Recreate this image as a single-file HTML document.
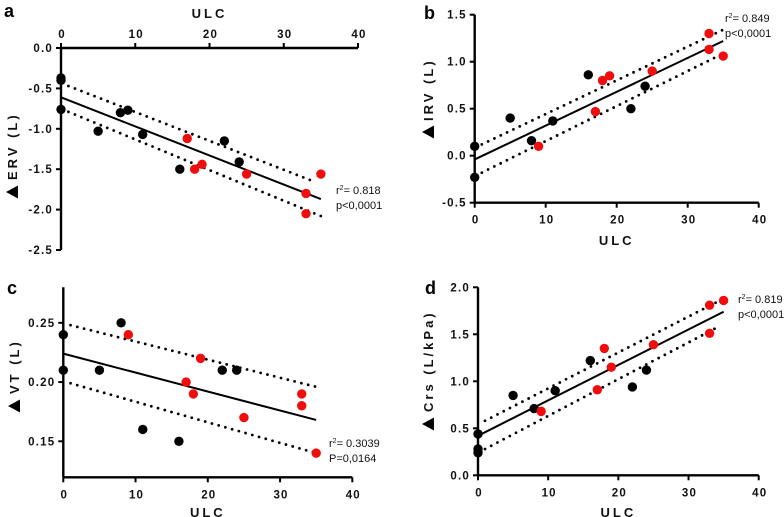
<!DOCTYPE html>
<html><head><meta charset="utf-8"><style>
html,body{margin:0;padding:0;background:#fff;}
svg{display:block;font-family:"Liberation Sans",Arial,sans-serif;}
.tk{font-size:11.5px;font-weight:bold;letter-spacing:1.2px;fill:#111;}
.ti{font-size:13px;font-weight:bold;letter-spacing:3px;fill:#111;}
.st{font-size:11px;fill:#111;}
.pl{font-size:18px;font-weight:bold;fill:#000;}
</style></head><body>
<svg id="fig" width="784" height="517" viewBox="0 0 784 517"></svg>
<script>
// ---- Panel a data ----
const aBlackX=[0,0,0,5,8,9,11,16,22,24];
const aBlackY=[-0.37,-0.40,-0.76,-1.03,-0.80,-0.77,-1.07,-1.50,-1.15,-1.41];
const aRedX=[17,18,19,25,33,33,35];
const aRedY=[-1.12,-1.50,-1.44,-1.56,-1.80,-2.05,-1.56];
const aFit=[[0,-0.61],[35,-1.87]];
const aUpper=[[1,-0.47],[34,-1.65]];
const aLower=[[1,-0.79],[35,-2.08]];
const aYTicks=[0,-0.5,-1,-1.5,-2,-2.5];
const aYLabels=["0.0","-0.5","-1.0","-1.5","-2.0","-2.5"];
// ---- Panel b data ----
const bBlackX=[0,0,5,8,11,16,22,24];
const bBlackY=[0.10,-0.23,0.40,0.16,0.37,0.86,0.50,0.74];
const bRedX=[9,17,18,19,25,33,33,35];
const bRedY=[0.10,0.47,0.80,0.85,0.90,1.30,1.13,1.06];
const bFit=[[0,-0.04],[35,1.22]];
const bUpper=[[1,0.12],[35,1.34]];
const bLower=[[1,-0.18],[34,1.05]];
const bYTicks=[1.5,1,0.5,0,-0.5];
const bYLabels=["1.5","1.0","0.5","0.0","-0.5"];
// ---- Panel c data ----
const cBlackX=[0,0,5,8,11,16,22,24];
const cBlackY=[0.24,0.21,0.21,0.25,0.16,0.15,0.21,0.21];
const cRedX=[9,17,18,19,25,33,33,35];
const cRedY=[0.24,0.20,0.19,0.22,0.17,0.19,0.18,0.14];
const cFit=[[0,0.224],[35,0.168]];
const cUpper=[[1,0.248],[35,0.196]];
const cLower=[[1,0.199],[35,0.140]];
const cYTicks=[0.25,0.20,0.15];
const cYLabels=["0.25","0.20","0.15"];
// ---- Panel d data ----
const dBlackX=[0,0,0,5,8,11,16,22,24];
const dBlackY=[0.44,0.28,0.24,0.85,0.71,0.90,1.22,0.94,1.12];
const dRedX=[9,17,18,19,25,33,33,35];
const dRedY=[0.68,0.91,1.35,1.15,1.39,1.81,1.51,1.86];
const dFit=[[0,0.42],[35,1.74]];
const dUpper=[[1,0.58],[35,1.88]];
const dLower=[[1,0.28],[34,1.57]];
const dYTicks=[2,1.5,1,0.5,0];
const dYLabels=["2.0","1.5","1.0","0.5","0.0"];
const xTicks=[0,10,20,30,40];
const xLabels=["0","10","20","30","40"];

const NS="http://www.w3.org/2000/svg";
const svg=document.getElementById('fig');
function mk(tag,attrs,parent,text){const e=document.createElementNS(NS,tag);for(const k in attrs)e.setAttribute(k,attrs[k]);if(text!==undefined)e.textContent=text;(parent||svg).appendChild(e);return e;}

function panel(p){
  const g=mk('g',{});
  
  
  const sx=v=>p.x0+(v-0)/(40)*(p.x1-p.x0);
  const sy=v=>p.yTop+(p.vTop-v)/(p.vTop-p.vBot)*(p.yBot-p.yTop);
  const ax=mk('path',{d:`M${p.x0},${sy(p.vTop)}V${sy(p.vBot)}`,stroke:'#000','stroke-width':2.4,fill:'none'},g);
  
  
  const xa=mk('path',{d:`M${p.x0},${p.xAxisY}H${p.x1}`,stroke:'#000','stroke-width':2.4,fill:'none'},g);
  
  
  p.yTicks.forEach((v,i)=>{
    mk('line',{x1:p.x0-5,x2:p.x0,y1:sy(v),y2:sy(v),stroke:'#000','stroke-width':2},g);
    const t=mk('text',{x:p.x0-8,y:sy(v)+4,'text-anchor':'end',class:'tk'},g,p.yLabels[i]);
    
    
  });
  const dir=p.top?-1:1;
  xTicks.forEach((v,i)=>{
    mk('line',{x1:sx(v),x2:sx(v),y1:p.xAxisY,y2:p.xAxisY+5*dir,stroke:'#000','stroke-width':2},g);
    const t=mk('text',{x:sx(v)+1,y:p.top?p.xAxisY-10:p.xAxisY+21,'text-anchor':'middle',class:'tk'},g,xLabels[i]);
    
    
  });
  const xt=mk('text',{x:(p.x0+p.x1)/2,y:p.xTitleY,'text-anchor':'middle',class:'ti'},g,'ULC');
  
  
  const yt=mk('text',{x:0,y:0,'text-anchor':'start',class:'ti',transform:`translate(${p.yTitleX},${p.yTitleY}) rotate(-90)`},g,p.yTitle);
  
  
  const tx=p.triX, ty=p.triY;
  const tri=mk('polygon',{points:`${tx-6},${ty} ${tx+6},${ty-6.5} ${tx+6},${ty+6.5}`,fill:'#000'},g);
  
  
  [p.upper,p.lower].forEach((b,k)=>{
    const l=mk('line',{x1:sx(b[0][0]),y1:sy(b[0][1]),x2:sx(b[1][0]),y2:sy(b[1][1]),stroke:'#000','stroke-width':2.8,'stroke-dasharray':'0 7','stroke-linecap':'round'},g);
    
    
  });
  const f=mk('line',{x1:sx(p.fit[0][0]),y1:sy(p.fit[0][1]),x2:sx(p.fit[1][0]),y2:sy(p.fit[1][1]),stroke:'#000','stroke-width':2},g);
  
  
  p.bx.forEach((v,i)=>{
    const c=mk('circle',{cx:sx(v),cy:sy(p.by[i]),r:4.7,fill:'#000'},g);
    
    
  });
  p.rx.forEach((v,i)=>{
    const c=mk('circle',{cx:sx(v),cy:sy(p.ry[i]),r:4.7,fill:'#f00d0d'},g);
    
    
  });
  const s1=mk('text',{x:p.stX,y:p.stY,class:'st'},g);
  
  
  mk('tspan',{},s1,'r');
  mk('tspan',{dy:-4,style:'font-size:7px'},s1,'2');
  mk('tspan',{dy:4},s1,'= '+p.r2);
  const s2=mk('text',{x:p.stX,y:p.stY+15,class:'st'},g,p.pv);
  
  
  const pl=mk('text',{x:p.lx,y:p.ly,class:'pl'},g,p.id);
  
  
}

panel({id:'a',x0:61,x1:358,yTop:48,yBot:250,vTop:0,vBot:-2.5,xAxisY:48,top:true,xTitleY:18,
  yTitle:'ERV (L)',yTitleX:17,yTitleY:180,triX:12,triY:192,yTicks:aYTicks,yLabels:aYLabels,
  bx:aBlackX,by:aBlackY,rx:aRedX,ry:aRedY,fit:aFit,upper:aUpper,lower:aLower,
  r2:'0.818',pv:'p<0,0001',stX:336,stY:194,lx:4,ly:17});
panel({id:'b',x0:474.7,x1:758.7,yTop:14.7,yBot:202.7,vTop:1.5,vBot:-0.5,xAxisY:202.7,top:false,xTitleY:245,
  yTitle:'IRV (L)',yTitleX:433,yTitleY:121,triX:428,triY:132,yTicks:bYTicks,yLabels:bYLabels,
  bx:bBlackX,by:bBlackY,rx:bRedX,ry:bRedY,fit:bFit,upper:bUpper,lower:bLower,
  r2:'0.849',pv:'p<0,0001',stX:725,stY:22,lx:424,ly:19});
panel({id:'c',x0:63.3,x1:352.3,yTop:287.3,yBot:477.3,vTop:0.28,vBot:0.1196,xAxisY:477.3,top:false,xTitleY:517,
  yTitle:'VT (L)',yTitleX:19,yTitleY:394,triX:14,triY:406,yTicks:cYTicks,yLabels:cYLabels,
  bx:cBlackX,by:cBlackY,rx:cRedX,ry:cRedY,fit:cFit,upper:cUpper,lower:cLower,
  r2:'0.3039',pv:'P=0,0164',stX:329,stY:447,lx:7,ly:294});
panel({id:'d',x0:478,x1:758.7,yTop:287.3,yBot:475.3,vTop:2,vBot:0,xAxisY:475.3,top:false,xTitleY:517,
  yTitle:'Crs (L/kPa)',yTitleX:433,yTitleY:412,triX:428,triY:424,yTicks:dYTicks,yLabels:dYLabels,
  bx:dBlackX,by:dBlackY,rx:dRedX,ry:dRedY,fit:dFit,upper:dUpper,lower:dLower,
  r2:'0.819',pv:'p<0,0001',stX:738,stY:303,lx:425,ly:294});
</script>
</body></html>
